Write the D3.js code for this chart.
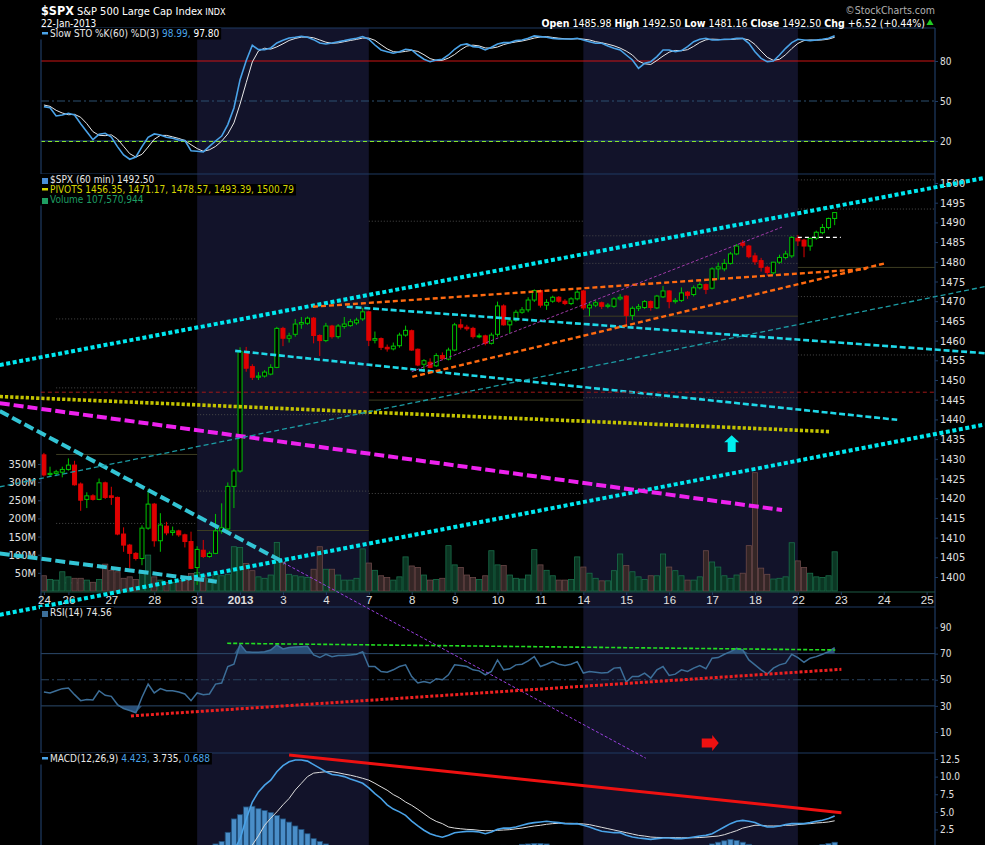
<!DOCTYPE html>
<html>
<head>
<meta charset="utf-8">
<script src="https://cdnjs.cloudflare.com/ajax/libs/d3/7.8.5/d3.min.js"></script>
<style>
body { margin: 0; background: #000; }
svg { display: block; }
text { font-family: "DejaVu Sans Condensed", "Liberation Sans Narrow", "DejaVu Sans", sans-serif; }
</style>
</head>
<body>
<div id="chart"></div>
<script>
// ---- data (60 min bars, 24-Dec-2012 .. 22-Jan-2013) ----
var dayLabels = ["24", "26", "27", "28", "31", "2013", "3", "4", "7", "8", "9", "10", "11", "14", "15", "16", "17", "18", "22", "23", "24", "25"];
var dayStart = [0, 4, 11, 18, 25, 32, 39, 46, 53, 60, 67, 74, 81, 88, 95, 102, 109, 116, 123, 130, 137, 144];
var weekStart = [2, 25, 53, 88, 123];
var weekEnd = [25, 53, 88, 123, 145.3];
var shadedWeeks = [[25, 53], [88, 123]];

var open = [1431.0, 1426.0, 1426.3, 1426.6, 1427.3, 1428.4, 1423.6, 1419.7, 1420.6, 1419.7, 1423.9, 1420.6, 1420.2, 1410.9, 1408.1, 1406.0, 1404.7, 1412.4, 1418.5, 1409.2,
	1412.9, 1411.3, 1411.7, 1410.7, 1409.0, 1402.4, 1406.8, 1405.2, 1406.0, 1411.7, 1412.2, 1423.0, 1426.9, 1456.9, 1453.4, 1450.7, 1451.0, 1451.5, 1453.2, 1463.1,
	1460.6, 1461.6, 1464.2, 1464.4, 1465.7, 1461.3, 1460.0, 1463.7, 1461.0, 1463.6, 1463.8, 1464.5, 1465.5, 1467.3, 1460.1, 1460.5, 1458.3, 1457.9, 1458.7, 1461.4,
	1462.5, 1457.8, 1454.0, 1454.5, 1453.6, 1456.2, 1455.3, 1457.6, 1464.0, 1463.4, 1463.1, 1461.0, 1461.2, 1459.3, 1461.6, 1468.8, 1464.0, 1465.2, 1467.2, 1467.8,
	1470.3, 1472.7, 1469.0, 1470.0, 1471.0, 1470.0, 1469.4, 1470.6, 1472.6, 1468.3, 1469.0, 1469.6, 1468.7, 1468.7, 1470.6, 1471.3, 1466.4, 1468.2, 1468.4, 1469.9,
	1468.3, 1471.1, 1472.6, 1469.9, 1470.2, 1472.3, 1471.7, 1473.4, 1474.2, 1473.3, 1478.2, 1478.2, 1479.6, 1482.0, 1484.8, 1484.0, 1481.5, 1480.3, 1478.6, 1477.2,
	1479.9, 1481.1, 1481.5, 1485.98, 1485.5, 1484.0, 1486.0, 1487.4, 1488.7, 1491.0];
var high = [1431.5, 1428.0, 1427.2, 1428.0, 1430.1, 1429.5, 1424.0, 1421.5, 1421.0, 1425.0, 1424.2, 1422.9, 1420.4, 1412.6, 1408.4, 1406.3, 1413.1, 1422.3, 1418.8, 1416.2,
	1414.0, 1412.8, 1412.0, 1411.0, 1411.5, 1407.8, 1409.4, 1406.5, 1416.0, 1418.7, 1424.0, 1427.5, 1458.3, 1458.4, 1454.0, 1452.0, 1452.5, 1454.0, 1463.5, 1463.5,
	1462.0, 1465.5, 1466.0, 1466.1, 1466.0, 1461.6, 1464.5, 1464.0, 1464.2, 1466.0, 1465.5, 1465.8, 1468.3, 1467.6, 1462.3, 1460.8, 1459.0, 1459.5, 1462.0, 1463.8,
	1462.8, 1458.0, 1455.3, 1455.5, 1456.8, 1457.0, 1458.2, 1464.5, 1465.5, 1464.0, 1463.5, 1461.8, 1461.5, 1462.0, 1469.9, 1469.2, 1465.5, 1467.8, 1468.5, 1471.0,
	1473.0, 1473.0, 1470.5, 1471.4, 1471.3, 1470.5, 1471.0, 1472.8, 1472.9, 1469.8, 1470.2, 1469.9, 1469.5, 1471.0, 1471.8, 1471.5, 1468.7, 1469.3, 1470.3, 1470.2,
	1471.6, 1473.9, 1472.8, 1470.8, 1473.5, 1472.6, 1474.0, 1474.8, 1474.5, 1478.6, 1479.8, 1480.7, 1482.5, 1484.5, 1485.5, 1484.3, 1482.3, 1481.0, 1479.0, 1480.0,
	1481.8, 1482.8, 1486.5, 1486.8, 1485.8, 1486.2, 1487.9, 1489.6, 1491.2, 1492.5];
var low = [1425.5, 1425.5, 1425.6, 1425.3, 1427.0, 1423.2, 1416.8, 1417.5, 1419.4, 1419.5, 1419.8, 1418.3, 1410.6, 1406.4, 1402.3, 1404.2, 1403.0, 1412.0, 1407.7, 1406.4,
	1410.6, 1410.5, 1410.2, 1407.5, 1402.0, 1398.0, 1404.8, 1404.9, 1405.8, 1411.0, 1411.8, 1417.5, 1426.5, 1452.1, 1450.0, 1450.0, 1450.6, 1451.2, 1453.0, 1458.6,
	1459.5, 1461.0, 1463.0, 1464.0, 1459.3, 1456.1, 1459.6, 1460.5, 1460.5, 1463.0, 1463.5, 1464.0, 1465.0, 1458.6, 1459.3, 1457.6, 1457.2, 1457.5, 1458.2, 1461.0,
	1457.4, 1453.5, 1452.2, 1453.0, 1453.3, 1455.0, 1455.0, 1457.3, 1462.8, 1462.5, 1460.5, 1460.6, 1458.8, 1459.0, 1461.0, 1463.8, 1461.8, 1464.8, 1466.8, 1467.2,
	1469.8, 1468.4, 1467.8, 1469.6, 1469.6, 1469.0, 1469.0, 1470.2, 1467.8, 1466.2, 1468.5, 1468.0, 1468.2, 1468.3, 1470.2, 1464.2, 1465.2, 1467.5, 1468.0, 1467.6,
	1468.0, 1470.8, 1468.2, 1469.4, 1469.8, 1470.6, 1471.2, 1473.0, 1471.8, 1473.0, 1475.5, 1477.6, 1479.3, 1481.7, 1483.6, 1480.9, 1479.2, 1477.5, 1476.4, 1476.8,
	1479.5, 1480.6, 1481.0, 1484.0, 1481.16, 1482.8, 1485.6, 1487.0, 1488.2, 1489.3];
var close = [1425.9, 1426.3, 1426.7, 1427.3, 1428.4, 1423.4, 1419.5, 1420.6, 1419.7, 1423.9, 1420.2, 1420.2, 1410.9, 1408.1, 1406.0, 1404.7, 1412.4, 1418.5, 1409.2, 1413.2,
	1411.2, 1411.7, 1410.7, 1409.0, 1402.2, 1407.0, 1405.2, 1406.0, 1411.7, 1412.5, 1423.0, 1426.9, 1457.2, 1453.0, 1450.7, 1451.0, 1452.0, 1453.2, 1463.1, 1460.6,
	1461.2, 1464.2, 1464.6, 1465.7, 1461.3, 1460.0, 1463.7, 1461.0, 1463.7, 1464.2, 1464.8, 1465.2, 1467.3, 1460.1, 1460.5, 1458.3, 1457.9, 1458.6, 1461.4, 1462.6,
	1457.6, 1453.8, 1454.9, 1453.2, 1456.2, 1455.4, 1457.6, 1464.0, 1463.4, 1463.0, 1461.0, 1461.2, 1459.3, 1461.4, 1468.8, 1464.0, 1465.0, 1467.2, 1467.8, 1470.3,
	1472.7, 1469.0, 1469.7, 1471.0, 1470.0, 1469.4, 1470.6, 1472.3, 1468.3, 1469.0, 1469.6, 1468.7, 1469.0, 1470.6, 1471.0, 1466.4, 1468.2, 1468.6, 1469.9, 1468.4,
	1471.3, 1472.6, 1469.9, 1470.2, 1472.1, 1471.5, 1473.4, 1474.2, 1473.0, 1478.2, 1478.7, 1479.6, 1482.0, 1484.0, 1484.2, 1481.3, 1480.0, 1478.6, 1477.3, 1479.9,
	1481.1, 1482.0, 1486.2, 1485.3, 1484.0, 1485.9, 1487.5, 1488.7, 1491.0, 1492.5];
// volume, millions of shares
var volume = [42, 32, 30, 53, 39, 35, 35, 30, 24, 32, 74, 57, 53, 35, 39, 32, 48, 99, 39, 30,
	24, 24, 30, 30, 48, 51, 44, 35, 46, 42, 46, 122, 120, 76, 56, 39, 35, 44, 134, 79,
	46, 42, 39, 37, 60, 122, 60, 60, 44, 30, 30, 35, 116, 77, 57, 42, 37, 30, 39, 94,
	69, 65, 44, 30, 32, 35, 125, 72, 65, 44, 37, 32, 42, 111, 72, 70, 44, 35, 33, 44,
	114, 72, 57, 42, 30, 30, 32, 94, 66, 49, 35, 28, 28, 56, 102, 70, 53, 39, 32, 42,
	42, 102, 66, 56, 42, 30, 30, 39, 111, 80, 66, 42, 35, 44, 49, 125, 326, 63, 46, 33,
	35, 39, 133, 83, 65, 49, 39, 37, 42, 108];
var stoK = [45.8, 45.0, 38.8, 39.5, 40.8, 39.5, 33.0, 27.0, 21.0, 25.0, 25.8, 23.0, 15.8, 9.5, 6.3, 8.0, 15.8, 22.8, 25.3, 24.5,
	22.8, 22.0, 20.8, 20.3, 12.7, 12.3, 11.8, 16.0, 20.0, 23.7, 32.3, 44.8, 66.0, 80.2, 91.8, 88.5, 88.5, 89.8, 93.5, 95.5,
	97.3, 97.8, 98.5, 97.8, 96.0, 93.5, 92.8, 93.5, 94.5, 95.3, 96.3, 97.0, 98.3, 96.3, 92.0, 88.3, 87.0, 85.8, 87.0, 88.8,
	88.3, 84.5, 81.3, 79.5, 80.8, 81.3, 84.5, 88.8, 92.0, 92.8, 90.8, 90.3, 88.3, 90.3, 92.8, 93.8, 93.8, 95.3, 95.8, 97.0,
	98.8, 98.3, 97.8, 97.0, 96.5, 96.5, 96.5, 97.0, 95.8, 94.5, 93.3, 93.3, 91.3, 89.5, 88.3, 84.5, 80.8, 74.5, 78.3, 79.5,
	83.3, 88.3, 88.3, 87.0, 87.8, 90.8, 94.5, 96.3, 97.0, 95.8, 95.8, 96.3, 96.3, 97.0, 97.0, 93.3, 87.0, 82.0, 79.5, 80.0,
	84.5, 89.5, 93.8, 96.3, 95.8, 95.3, 95.8, 96.3, 97.0, 98.99];
var stoD = [47.0, 46.0, 43.0, 41.0, 39.7, 40.0, 37.8, 33.0, 27.0, 24.3, 24.0, 24.6, 21.5, 16.0, 10.5, 7.9, 10.0, 15.5, 21.3, 24.2,
	24.2, 23.1, 21.9, 20.4, 17.2, 14.3, 12.3, 13.4, 15.9, 19.9, 25.3, 33.6, 47.7, 63.7, 79.3, 87.5, 89.6, 88.9, 90.6, 92.9,
	95.4, 96.9, 97.9, 98.0, 97.4, 95.8, 94.1, 93.3, 93.6, 94.5, 95.4, 96.2, 97.2, 97.2, 95.5, 92.2, 89.1, 87.0, 86.6, 87.2,
	88.0, 87.2, 84.7, 81.8, 80.5, 80.5, 82.2, 84.9, 88.4, 91.2, 91.9, 91.3, 89.8, 89.6, 90.5, 92.3, 93.5, 94.3, 95.0, 96.0,
	97.2, 98.0, 98.3, 97.7, 97.1, 96.7, 96.5, 96.7, 96.4, 95.8, 94.5, 93.7, 92.6, 91.4, 89.7, 87.4, 84.5, 79.9, 77.9, 77.4,
	80.4, 83.7, 86.6, 87.9, 87.7, 88.5, 91.0, 93.9, 95.9, 96.4, 96.2, 96.0, 96.1, 96.5, 96.8, 95.8, 92.4, 87.4, 82.8, 80.5,
	81.3, 84.7, 89.3, 93.2, 95.3, 95.8, 95.6, 95.8, 96.4, 97.8];
var rsi = [40.6, 39.9, 41.6, 43.2, 43.7, 38.6, 34.0, 34.8, 34.5, 41.6, 38.1, 37.3, 31.0, 28.0, 26.4, 24.7, 36.6, 46.7, 39.9, 43.2,
	41.6, 41.6, 40.6, 39.1, 34.0, 39.9, 38.6, 39.1, 46.7, 47.5, 60.1, 61.9, 77.1, 71.5, 71.0, 71.0, 71.5, 72.8, 76.6, 73.6,
	74.6, 75.1, 75.3, 75.6, 69.0, 67.0, 69.5, 67.7, 68.5, 68.5, 69.0, 69.5, 71.5, 60.1, 60.1, 56.3, 55.8, 57.6, 60.1, 61.4,
	52.5, 47.5, 48.7, 47.5, 50.8, 50.0, 53.8, 61.4, 60.9, 60.1, 57.6, 56.8, 53.8, 56.3, 65.2, 57.6, 58.4, 61.4, 61.9, 64.4,
	67.7, 60.1, 61.9, 63.9, 61.9, 60.9, 61.9, 63.9, 55.1, 56.3, 55.8, 55.1, 55.6, 58.9, 59.4, 48.2, 52.5, 52.5, 55.1, 51.3,
	57.6, 60.1, 53.3, 54.3, 57.6, 56.3, 58.9, 60.9, 58.4, 66.5, 67.0, 69.5, 71.5, 74.1, 72.8, 65.2, 61.4, 57.6, 54.3, 58.9,
	61.4, 62.7, 69.5, 67.0, 63.4, 66.5, 67.7, 69.5, 71.5, 74.56];
var macd = [-3.5, -3.6, -3.8, -3.9, -4.0, -4.2, -4.5, -4.9, -5.4, -5.6, -5.7, -5.9, -6.3, -6.9, -7.5, -7.9, -7.7, -7.0, -6.8, -6.6,
	-6.5, -6.4, -6.4, -6.4, -6.8, -6.7, -6.6, -6.4, -5.9, -5.2, -3.9, -0.5, 1.17, 4.0, 6.4, 7.83, 8.79, 9.5, 10.7, 11.55,
	12.1, 12.36, 12.36, 12.2, 11.7, 11.2, 10.7, 10.3, 10.2, 10.0, 9.67, 9.38, 9.05, 8.4, 7.6, 6.9, 6.0, 5.4, 5.0, 4.5,
	3.7, 3.0, 2.4, 1.9, 1.6, 1.4, 1.7, 2.05, 2.14, 2.24, 2.24, 2.14, 1.9, 2.14, 2.52, 2.7, 2.7, 2.86, 3.1, 3.33,
	3.48, 3.57, 3.67, 3.57, 3.48, 3.33, 3.3, 3.33, 3.1, 2.86, 2.52, 2.24, 2.14, 2.05, 2.05, 1.67, 1.43, 1.29, 1.2, 1.1,
	1.2, 1.29, 1.29, 1.2, 1.2, 1.29, 1.43, 1.57, 1.67, 1.9, 2.38, 2.86, 3.33, 3.67, 3.8, 3.67, 3.48, 3.1, 2.86, 2.86,
	3.0, 3.2, 3.33, 3.33, 3.33, 3.48, 3.67, 3.8, 4.05, 4.423];
var signal = [-2.8, -2.9, -3.0, -3.1, -3.2, -3.3, -3.4, -3.6, -3.8, -4.0, -4.2, -4.4, -4.6, -4.9, -5.2, -5.5, -5.8, -6.0, -6.1, -6.2,
	-6.3, -6.3, -6.4, -6.4, -6.5, -6.5, -6.5, -6.4, -6.3, -6.0, -5.6, -4.5, -3.0, -1.2, 0.3, 1.6, 3.1, 4.1, 5.0, 6.0,
	6.9, 8.1, 9.05, 10.0, 10.5, 10.6, 10.7, 10.7, 10.55, 10.36, 10.2, 10.0, 9.76, 9.5, 9.05, 8.55, 8.07, 7.45, 7.0, 6.4,
	5.93, 5.36, 4.74, 4.12, 3.65, 3.33, 2.86, 2.7, 2.6, 2.52, 2.48, 2.38, 2.33, 2.33, 2.38, 2.43, 2.48, 2.6, 2.7, 2.86,
	3.0, 3.1, 3.24, 3.33, 3.38, 3.38, 3.38, 3.33, 3.29, 3.19, 3.0, 2.81, 2.62, 2.43, 2.24, 2.05, 1.86, 1.67, 1.57, 1.43,
	1.38, 1.36, 1.35, 1.34, 1.33, 1.32, 1.33, 1.36, 1.42, 1.5, 1.57, 1.76, 2.05, 2.33, 2.7, 2.9, 3.1, 3.1, 3.0, 3.0,
	3.0, 3.1, 3.1, 3.2, 3.29, 3.33, 3.43, 3.48, 3.57, 3.735];
var hist = [-0.7, -0.7, -0.8, -0.8, -0.8, -0.9, -1.1, -1.3, -1.6, -1.6, -1.5, -1.5, -1.7, -2.0, -2.3, -2.4, -1.9, -1.0, -0.7, -0.4,
	-0.2, -0.1, 0.0, 0.0, -0.3, -0.2, -0.1, 0.0, 0.45, 0.8, 2.1, 4.0, 4.6, 5.7, 5.8, 5.45, 5.2, 4.9, 4.5, 4.0,
	3.55, 3.0, 2.5, 1.9, 1.2, 0.8, 0.45, 0.1, -0.35, -0.4, -0.5, -0.6, -0.7, -1.1, -1.45, -1.65, -2.05, -2.05, -2.0, -1.9,
	-2.2, -2.35, -2.35, -2.2, -2.05, -1.95, -1.15, -0.65, -0.45, -0.3, -0.25, -0.25, -0.45, -0.2, 0.15, 0.25, 0.2, 0.25, 0.4, 0.45,
	0.5, 0.5, 0.45, 0.25, 0.1, -0.05, -0.1, 0.0, -0.2, -0.35, -0.5, -0.55, -0.5, -0.4, -0.2, -0.4, -0.45, -0.4, -0.35, -0.35,
	-0.2, -0.05, -0.05, -0.15, -0.15, -0.05, 0.1, 0.2, 0.25, 0.45, 0.7, 0.9, 1.1, 0.95, 0.7, 0.4, 0.2, 0.0, -0.15, -0.15,
	0.0, 0.1, 0.2, 0.15, 0.05, 0.15, 0.25, 0.35, 0.5, 0.688];

// weekly pivot levels (null = off chart)
var pivotP = [1431.1, 1411.8, 1444.9, 1466.2, 1478.57];
var pivotR1 = [1448.0, 1421.8, 1490.3, 1479.6, 1493.39];
var pivotR2 = [1465.5, 1441.2, null, 1486.6, 1500.79];
var pivotS1 = [1413.6, null, 1421.2, 1458.9, 1471.17];
var pivotS2 = [1398.5, null, null, 1445.5, 1456.35];

var priceTicks = d3.range(1400, 1501, 5);
var volTicks = [50, 100, 150, 200, 250, 300, 350];
var stoTicks = [20, 50, 80];
var rsiTicks = [10, 30, 50, 70, 90];
var macdTicks = [2.5, 5, 7.5, 10, 12.5];

// hand drawn trend lines, in bar index / value units
var priceLines = [
	{ id: "chanTop", b1: -7.2, v1: 1453.8, b2: 153.5, v2: 1501.3 },
	{ id: "chanLow", b1: -7.2, v1: 1390.4, b2: 153.5, v2: 1438.7 },
	{ id: "fanA", b1: 31.2, v1: 1457.4, b2: 139.2, v2: 1439.9 },
	{ id: "fanB", b1: 49.4, v1: 1468.6, b2: 153.5, v2: 1456.8 },
	{ id: "downBig", b1: -7.2, v1: 1442.1, b2: 39.3, v2: 1403.6 },
	{ id: "downLow", b1: -7.2, v1: 1406.0, b2: 28.2, v2: 1398.8 },
	{ id: "yellow", b1: -7.2, v1: 1445.8, b2: 128.2, v2: 1436.9 },
	{ id: "magenta", b1: -7.2, v1: 1444.1, b2: 120.4, v2: 1417.0 },
	{ id: "orangeTop", b1: 43.9, v1: 1468.6, b2: 134.2, v2: 1478.2 },
	{ id: "orangeLow", b1: 60.1, v1: 1450.8, b2: 137.2, v2: 1479.6 },
	{ id: "purple", b1: 60.0, v1: 1452.1, b2: 120.4, v2: 1488.8 },
	{ id: "teal", b1: -7.2, v1: 1422.9, b2: 153.5, v2: 1473.7 },
	{ id: "redLevel", b1: -0.5, v1: 1446.9, b2: 145.3, v2: 1446.9 },
	{ id: "whiteLevel", b1: 123, v1: 1486.2, b2: 130, v2: 1486.2 },
	{ id: "purpleLong", b1: 39.1, v1: 1403.6, b2: 98.2, v2: 1354.0 }
];
var rsiLines = [
	{ id: "rsiGreen", b1: 29.9, v1: 77.9, b2: 129.1, v2: 72.8 },
	{ id: "rsiRed", b1: 14.2, v1: 22.3, b2: 130.1, v2: 58.0 }
];
var macdLines = [{ id: "macdRed", b1: 40.0, v1: 13.07, b2: 130.1, v2: 4.89 }];

var lineStyle = {
	chanTop: ["#00e8f0", 4, "4,2.6"],
	chanLow: ["#00e8f0", 4, "4,2.6"],
	fanA: ["#1fd8e8", 2.6, "6,2.8"],
	fanB: ["#1fd8e8", 2.6, "6,2.8"],
	downBig: ["#33c4d4", 4, "10,4"],
	downLow: ["#33c4d4", 4, "10,4"],
	yellow: ["#c4c400", 3.6, "3.2,2"],
	magenta: ["#ee22ee", 4, "10,4"],
	orangeTop: ["#ff6a10", 2.4, "5,3"],
	orangeLow: ["#ff6a10", 2.4, "5,3"],
	purple: ["#a03aa8", 1, "3,2"],
	teal: ["#1c9ca4", 1.3, "5,3"],
	redLevel: ["#a01818", 1, "4,3"],
	whiteLevel: ["#ffffff", 1.2, "4,3"],
	purpleLong: ["#9a40e0", 1, "3,2"],
	rsiGreen: ["#22dd22", 1.6, "4,2"],
	rsiRed: ["#ee2020", 3, "3,2"],
	macdRed: ["#ee1111", 3, null]
};

// ---- layout ----
var width = 985, height = 845;
var plotLeft = 41, plotRight = 935;
var sto = { top: 28, bottom: 174 };
var price = { top: 174, bottom: 592 };
var rsiP = { top: 607, bottom: 753 };
var macdP = { top: 753, bottom: 845 };

var gridCol = "#1f3b63";
var axisText = "#e0e0e0";

var svg = d3.select("#chart").append("svg").attr("width", width).attr("height", height);
svg.append("rect").attr("width", width).attr("height", height).attr("fill", "#000");

var x = d3.scaleLinear().domain([0, 130]).range([43.9, 840.8]);
var yP = d3.scaleLinear().domain([1400, 1500]).range([577, 183]);
var yV = d3.scaleLinear().domain([0, 350]).range([591, 464]);
var yS = d3.scaleLinear().domain([20, 80]).range([141, 61]);
var yR = d3.scaleLinear().domain([10, 90]).range([732, 627.5]);
var yM = d3.scaleLinear().domain([2.5, 12.5]).range([829.5, 759]);
var bars = d3.range(close.length);

// clip paths per panel
var defs = svg.append("defs");
[["clipSto", sto], ["clipPrice", price], ["clipRsi", rsiP], ["clipMacd", macdP]].forEach(function (c) {
	defs.append("clipPath").attr("id", c[0]).append("rect")
		.attr("x", plotLeft).attr("y", c[1].top)
		.attr("width", plotRight - plotLeft).attr("height", c[1].bottom - c[1].top);
});

// weekly shading
svg.selectAll(".shade").data(shadedWeeks).enter().append("rect")
	.attr("x", function (d) { return x(d[0]); })
	.attr("width", function (d) { return x(d[1]) - x(d[0]); })
	.attr("y", sto.top).attr("height", height - sto.top)
	.attr("fill", "#12132a");

// ---- STO panel ----
var gS = svg.append("g");
gS.append("line").attr("x1", plotLeft).attr("x2", plotRight).attr("y1", yS(80)).attr("y2", yS(80))
	.attr("stroke", "#cc1515").attr("stroke-width", 1);
gS.append("line").attr("x1", plotLeft).attr("x2", plotRight).attr("y1", yS(50)).attr("y2", yS(50))
	.attr("stroke", "#2d5070").attr("stroke-dasharray", "8,3,2,3");
gS.append("line").attr("x1", plotLeft).attr("x2", plotRight).attr("y1", yS(20)).attr("y2", yS(20))
	.attr("stroke", "#2a5d94").attr("stroke-width", 1);
gS.append("line").attr("x1", plotLeft).attr("x2", plotRight).attr("y1", yS(20) + 0.5).attr("y2", yS(20) + 0.5)
	.attr("stroke", "#88e62a").attr("stroke-dasharray", "4,3");
var gSc = gS.append("g").attr("clip-path", "url(#clipSto)");
gSc.append("path").datum(bars)
	.attr("d", d3.line().x(function (i) { return x(i); }).y(function (i) { return yS(stoD[i]); }))
	.attr("fill", "none").attr("stroke", "#e8e8e8").attr("stroke-width", 1);
gSc.append("path").datum(bars)
	.attr("d", d3.line().x(function (i) { return x(i); }).y(function (i) { return yS(stoK[i]); }))
	.attr("fill", "none").attr("stroke", "#4aa3e8").attr("stroke-width", 1.6);

// ---- price panel ----
var gP = svg.append("g");
// pivots
var pivotSets = [[pivotR2, "dot"], [pivotR1, "dot"], [pivotP, "solid"], [pivotS1, "dot"], [pivotS2, "dot"]];
pivotSets.forEach(function (ps) {
	ps[0].forEach(function (v, w) {
		if (v == null) return;
		gP.append("line")
			.attr("x1", x(weekStart[w])).attr("x2", w == 4 ? plotRight : x(weekEnd[w]))
			.attr("y1", yP(v)).attr("y2", yP(v))
			.attr("stroke", ps[1] == "solid" ? "#3d3d22" : "#4a4a4a")
			.attr("stroke-width", 1)
			.attr("stroke-dasharray", ps[1] == "solid" ? null : "1,2");
	});
});

// volume
var gV = gP.append("g").attr("clip-path", "url(#clipPrice)");
gV.selectAll(".vol").data(bars).enter().append("rect")
	.attr("x", function (i) { return x(i) - 2.6; })
	.attr("width", 5.2)
	.attr("y", function (i) { return yV(volume[i]); })
	.attr("height", function (i) { return yV(0) - yV(volume[i]); })
	.attr("fill", function (i) { return close[i] >= open[i] ? "#0b3623" : "#352626"; })
	.attr("stroke", function (i) { return close[i] >= open[i] ? "#1a6e4a" : "#6a4848"; })
	.attr("stroke-width", 0.8);
gP.append("line").attr("x1", plotLeft).attr("x2", plotRight).attr("y1", price.bottom).attr("y2", price.bottom)
	.attr("stroke", "#1d5a44");

// candles
var gC = gP.append("g").attr("clip-path", "url(#clipPrice)");
var candle = gC.selectAll(".candle").data(bars).enter().append("g");
candle.append("line")
	.attr("x1", function (i) { return x(i); }).attr("x2", function (i) { return x(i); })
	.attr("y1", function (i) { return yP(high[i]); })
	.attr("y2", function (i) { return yP(low[i]); })
	.attr("stroke", function (i) { return close[i] >= open[i] ? "#00c400" : "#e00000"; })
	.attr("stroke-width", 1);
candle.append("rect")
	.attr("x", function (i) { return x(i) - 2; })
	.attr("width", 4)
	.attr("y", function (i) { return yP(Math.max(open[i], close[i])); })
	.attr("height", function (i) { return Math.max(1, Math.abs(yP(open[i]) - yP(close[i]))); })
	.attr("fill", function (i) { return close[i] >= open[i] ? "#000" : "#e00000"; })
	.attr("stroke", function (i) { return close[i] >= open[i] ? "#00c400" : "#e00000"; })
	.attr("stroke-width", 1);

// ---- RSI panel ----
var gR = svg.append("g");
[70, 30].forEach(function (v) {
	gR.append("line").attr("x1", plotLeft).attr("x2", plotRight).attr("y1", yR(v)).attr("y2", yR(v))
		.attr("stroke", "#2c4a6c");
});
gR.append("line").attr("x1", plotLeft).attr("x2", plotRight).attr("y1", yR(50)).attr("y2", yR(50))
	.attr("stroke", "#2a4560").attr("stroke-dasharray", "8,3,2,3");
var gRc = gR.append("g").attr("clip-path", "url(#clipRsi)");
gRc.append("path").datum(bars)
	.attr("d", d3.area().x(function (i) { return x(i); })
		.y0(yR(70)).y1(function (i) { return yR(Math.max(rsi[i], 70)); }))
	.attr("fill", "#2a5078");
gRc.append("path").datum(bars)
	.attr("d", d3.area().x(function (i) { return x(i); })
		.y0(yR(30)).y1(function (i) { return yR(Math.min(rsi[i], 30)); }))
	.attr("fill", "#2a5078");
gRc.append("path").datum(bars)
	.attr("d", d3.line().x(function (i) { return x(i); }).y(function (i) { return yR(rsi[i]); }))
	.attr("fill", "none").attr("stroke", "#3c6e98").attr("stroke-width", 1.5);

// ---- MACD panel ----
var gM = svg.append("g").attr("clip-path", "url(#clipMacd)");
gM.selectAll(".hist").data(bars.filter(function (i) { return hist[i] > 0; })).enter().append("rect")
	.attr("x", function (i) { return x(i) - 2.6; })
	.attr("width", 5.2)
	.attr("y", function (i) { return yM(hist[i]); })
	.attr("height", function (i) { return yM(0) - yM(hist[i]); })
	.attr("fill", "#4a8ec8").attr("stroke", "#1f4f7a").attr("stroke-width", 0.8);
gM.append("path").datum(bars)
	.attr("d", d3.line().x(function (i) { return x(i); }).y(function (i) { return yM(signal[i]); }))
	.attr("fill", "none").attr("stroke", "#dddddd").attr("stroke-width", 1);
gM.append("path").datum(bars)
	.attr("d", d3.line().x(function (i) { return x(i); }).y(function (i) { return yM(macd[i]); }))
	.attr("fill", "none").attr("stroke", "#4aa3e8").attr("stroke-width", 1.6);

// ---- panel frames ----
var frame = svg.append("g").attr("stroke", gridCol).attr("stroke-width", 1.2);
[sto.top, sto.bottom, rsiP.top, rsiP.bottom].forEach(function (yy) {
	frame.append("line").attr("x1", plotLeft).attr("x2", plotRight).attr("y1", yy).attr("y2", yy);
});
frame.append("line").attr("x1", plotLeft).attr("x2", plotLeft).attr("y1", sto.top).attr("y2", height);
frame.append("line").attr("x1", plotRight).attr("x2", plotRight).attr("y1", sto.top).attr("y2", height);

// ---- axes ----
function styleAxis(g, size) {
	g.select(".domain").remove();
	g.selectAll(".tick line").attr("stroke", gridCol);
	g.selectAll(".tick text").attr("fill", axisText).style("font-size", size + "px")
		.style("font-family", "'DejaVu Sans Condensed', 'DejaVu Sans', sans-serif");
}
svg.append("g").attr("transform", "translate(" + plotRight + ",0)")
	.call(d3.axisRight(yP).tickValues(priceTicks).tickSize(3).tickPadding(2).tickFormat(d3.format("d")))
	.call(styleAxis, 11);
svg.append("g").attr("transform", "translate(" + plotLeft + ",0)")
	.call(d3.axisLeft(yV).tickValues(volTicks).tickSize(3).tickPadding(2).tickFormat(function (d) { return d + "M"; }))
	.call(styleAxis, 11);
svg.append("g").attr("transform", "translate(" + plotRight + ",0)")
	.call(d3.axisRight(yS).tickValues(stoTicks).tickSize(3).tickPadding(2))
	.call(styleAxis, 10);
svg.append("g").attr("transform", "translate(" + plotRight + ",0)")
	.call(d3.axisRight(yR).tickValues(rsiTicks).tickSize(3).tickPadding(2))
	.call(styleAxis, 10);
svg.append("g").attr("transform", "translate(" + plotRight + ",0)")
	.call(d3.axisRight(yM).tickValues(macdTicks).tickSize(3).tickPadding(2).tickFormat(d3.format(".1f")))
	.call(styleAxis, 10);
var xAxis = svg.append("g").attr("transform", "translate(0," + price.bottom + ")")
	.call(d3.axisBottom(x).tickValues(dayStart).tickSize(3).tickPadding(1)
		.tickFormat(function (d, k) { return dayLabels[k]; }))
	.call(styleAxis, 11.5);
xAxis.selectAll(".tick text")
	.style("font-family", "'Liberation Sans', Arial, sans-serif")
	.style("font-weight", function (d, k) { return dayLabels[k] == "2013" ? "bold" : "normal"; });

// ---- trend lines and arrows ----
function drawLines(list, yScale) {
	svg.append("g").selectAll("line").data(list).enter().append("line")
		.attr("x1", function (d) { return x(d.b1); })
		.attr("y1", function (d) { return yScale(d.v1); })
		.attr("x2", function (d) { return x(d.b2); })
		.attr("y2", function (d) { return yScale(d.v2); })
		.attr("stroke", function (d) { return lineStyle[d.id][0]; })
		.attr("stroke-width", function (d) { return lineStyle[d.id][1]; })
		.attr("stroke-dasharray", function (d) { return lineStyle[d.id][2]; });
}
drawLines(priceLines, yP);
drawLines(rsiLines, yR);
drawLines(macdLines, yM);

// up arrow (price panel) and right arrow (RSI panel)
var ax = x(112.2), ayTop = yP(1436.0), ayBot = yP(1431.7);
svg.append("path")
	.attr("d", "M" + ax + "," + ayTop + "L" + (ax + 7.5) + "," + (ayTop + 7) + "L" + (ax + 4) + "," + (ayTop + 7) +
		"L" + (ax + 4) + "," + ayBot + "L" + (ax - 4) + "," + ayBot + "L" + (ax - 4) + "," + (ayTop + 7) +
		"L" + (ax - 7.5) + "," + (ayTop + 7) + "Z")
	.attr("fill", "#00eeee");
var rx = x(108.7), ry = yR(1.6);
svg.append("path")
	.attr("d", "M" + (rx + 8.5) + "," + ry + "L" + (rx + 2) + "," + (ry - 8) + "L" + (rx + 2) + "," + (ry - 4.5) +
		"L" + (rx - 8.5) + "," + (ry - 4.5) + "L" + (rx - 8.5) + "," + (ry + 4.5) + "L" + (rx + 2) + "," + (ry + 4.5) +
		"L" + (rx + 2) + "," + (ry + 8) + "Z")
	.attr("fill", "#ee1111");

// ---- legends ----
function legend(lx, ly, parts, icon) {
	var g = svg.append("g");
	var bg = g.append("rect").attr("fill", "#000");
	var t = g.append("text").attr("x", lx + 9).attr("y", ly).style("font-size", "10px");
	parts.forEach(function (p) {
		t.append("tspan").text(p[0]).attr("fill", p[1]);
	});
	var len = t.node().getComputedTextLength();
	bg.attr("x", lx - 1).attr("y", ly - 9).attr("width", len + 12).attr("height", 11.5);
	g.append("rect").attr("x", lx + 1).attr("y", ly - 5).attr("width", 6).attr("height", icon[1]).attr("fill", icon[0]);
}
legend(41, 37, [["Slow STO %K(60) %D(3) ", "#e8e8e8"], ["98.99, ", "#4aa3e8"], ["97.80", "#ffffff"]], ["#4aa3e8", 2.5]);
legend(41, 183, [["$SPX (60 min) 1492.50", "#e8e8e8"]], ["#4a8ed8", 6]);
legend(41, 193, [["PIVOTS 1456.35, 1471.17, 1478.57, 1493.39, 1500.79", "#d4d400"]], ["#d4d400", 2.5]);
legend(41, 203, [["Volume 107,570,944", "#1e9e62"]], ["#1e9e62", 6]);
legend(41, 616, [["RSI(14) 74.56", "#e8e8e8"]], ["#3c6e98", 6]);
legend(41, 762, [["MACD(12,26,9) ", "#e8e8e8"], ["4.423, ", "#4aa3e8"], ["3.735, ", "#e8e8e8"], ["0.688", "#4aa3e8"]], ["#4aa3e8", 2.5]);

// ---- header ----
var head = svg.append("text").attr("x", 41).attr("y", 14.5).attr("fill", "#ffffff");
head.append("tspan").text("$SPX").style("font-size", "12.5px").style("font-weight", "bold");
head.append("tspan").text(" S&P 500 Large Cap Index").style("font-size", "11px");
head.append("tspan").text("  INDX").style("font-size", "9px");
svg.append("text").attr("x", 41).attr("y", 27).attr("fill", "#ffffff").style("font-size", "10px").text("22-Jan-2013");
svg.append("text").attr("x", 935).attr("y", 14).attr("text-anchor", "end").attr("fill", "#b0b0b0")
	.style("font-size", "10.5px").text("\u00a9StockCharts.com");
var ohlc = svg.append("text").attr("x", 925).attr("y", 27).attr("text-anchor", "end").attr("fill", "#ffffff")
	.style("font-size", "10.5px");
[["Open", 1], [" 1485.98  ", 0], ["High", 1], [" 1492.50  ", 0], ["Low", 1], [" 1481.16  ", 0],
	["Close", 1], [" 1492.50  ", 0], ["Chg", 1], [" +6.52 (+0.44%)", 0]].forEach(function (p) {
	ohlc.append("tspan").text(p[0]).style("font-weight", p[1] ? "bold" : "normal");
});
svg.append("path").attr("d", d3.symbol().type(d3.symbolTriangle).size(22)())
	.attr("transform", "translate(930,23)").attr("fill", "#22cc22");
</script>
</body>
</html>
